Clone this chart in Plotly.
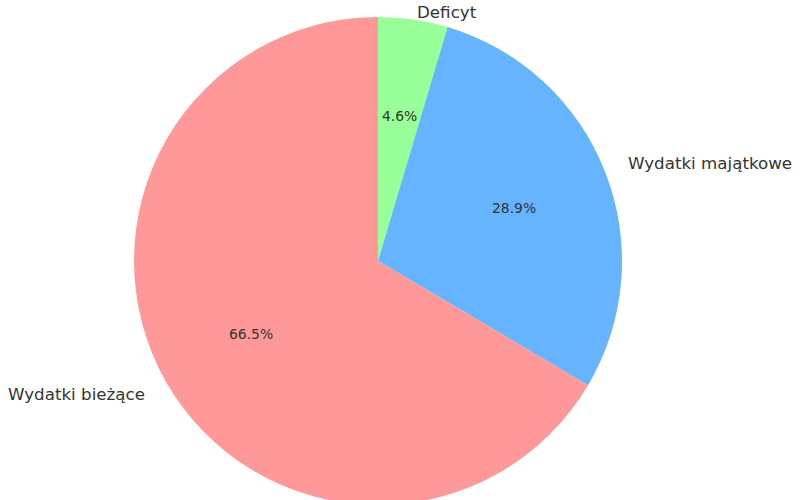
import math
import plotly.graph_objects as go

# slices listed clockwise from 12 o'clock
labels = ["Deficyt", "Wydatki majątkowe", "Wydatki bieżące"]
values = [4.6, 28.9, 66.5]
colors = ["#99ff99", "#66b3ff", "#ff9999"]

W, H = 800, 510
cx, cy, r = 378.0, 261.0, 244.0  # pie centre and radius in figure pixels
LABEL_SIZE, PCT_SIZE = 16.7, 13.9

fig = go.Figure(go.Pie(
    labels=labels, values=values, sort=False,
    direction="clockwise", rotation=0,
    marker=dict(colors=colors, line=dict(width=0)),
    textinfo="none", hoverinfo="label+percent",
    domain=dict(x=[(cx - r) / W, (cx + r) / W],
                y=[max(0.0, 1 - (cy + r) / H), min(1.0, 1 - (cy - r) / H)]),
    showlegend=False,
))

total = sum(values)
ann = []
start = 90.0
for lab, v in zip(labels, values):
    span = 360.0 * v / total
    mid = math.radians(start - span / 2)
    start -= span
    c, s = math.cos(mid), math.sin(mid)
    lx, ly = cx + 1.1 * r * c, cy - 1.1 * r * s
    yanchor = "middle"
    if ly < LABEL_SIZE * 0.6:  # keep the label inside the figure
        ly, yanchor = 0.0, "top"
    ann.append(dict(x=lx / W, y=1 - ly / H, xref="paper", yref="paper", text=lab,
                    showarrow=False, xanchor="left" if c >= 0 else "right", yanchor=yanchor,
                    xshift=-2 if c >= 0 else 2,
                    font=dict(family="DejaVu Sans", size=LABEL_SIZE, color="#333333")))
    px, py = cx + 0.6 * r * c, cy - 0.6 * r * s
    ann.append(dict(x=px / W, y=1 - py / H, xref="paper", yref="paper",
                    text=f"{100 * v / total:.1f}%", showarrow=False,
                    xanchor="center", yanchor="middle",
                    font=dict(family="DejaVu Sans", size=PCT_SIZE, color="#333333")))

fig.update_layout(
    width=W, height=H, margin=dict(l=0, r=0, t=0, b=0),
    paper_bgcolor="white", plot_bgcolor="white",
    annotations=ann,
)
fig.write_html("out.html", config={"displayModeBar": False},
               post_script="document.body.style.margin='0';document.body.style.overflow='hidden';")
